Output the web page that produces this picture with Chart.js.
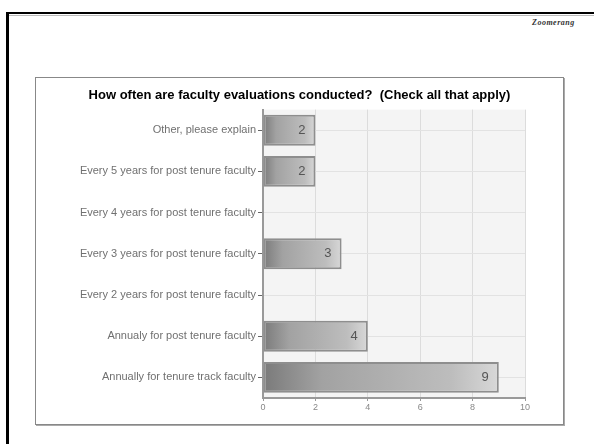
<!DOCTYPE html>
<html>
<head>
<meta charset="utf-8">
<script src="https://cdn.jsdelivr.net/npm/chart.js@4.4.0/dist/chart.umd.min.js"></script>
<style>
  body { margin: 0; background: #fff; width: 594px; height: 444px; overflow: hidden; position: relative; font-family: "Liberation Sans", Arial, sans-serif; }
  #frame { position: absolute; left: 6px; top: 12px; width: 600px; height: 440px; border-left: 3px solid #000; border-top: 2px solid #000; }
  #frame:after { content: ""; position: absolute; left: 0; top: 1px; width: 100%; border-top: 1px solid #bbb; }
  #logo { position: absolute; left: 532px; top: 18px; font: italic bold 8px "Liberation Serif", serif; color: #333; letter-spacing: 0.5px; }
  #box { position: absolute; left: 35px; top: 77px; width: 527px; height: 346px; border: 1px solid #888; box-shadow: 1px 1px 0 #aaa; background: #fff; }
  #box canvas { position: absolute; left: 0; top: 0; }
</style>
</head>
<body>
<div id="frame"></div>
<div id="logo">Zoomerang</div>
<div id="box"><canvas id="chart" width="527" height="346"></canvas></div>
<script>
const categories = ['Other, please explain', 'Every 5 years for post tenure faculty', 'Every 4 years for post tenure faculty', 'Every 3 years for post tenure faculty', 'Every 2 years for post tenure faculty', 'Annualy for post tenure faculty', 'Annually for tenure track faculty'];
const counts = [2, 2, 0, 3, 0, 4, 9];
const xTicks = [0, 2, 4, 6, 8, 10];

// value written inside the right end of each bar
const valueLabels = {
    id: 'valueLabels',
    afterDatasetsDraw(chart) {
        const ctx = chart.ctx;
        const meta = chart.getDatasetMeta(0);
        ctx.save();
        ctx.font = '13px "Liberation Sans", Arial, sans-serif';
        ctx.fillStyle = '#555';
        ctx.textAlign = 'right';
        ctx.textBaseline = 'middle';
        meta.data.forEach(function (bar, i) {
            if (counts[i] > 0) {
                ctx.fillText(counts[i], bar.x - 10, bar.y);
            }
        });
        ctx.restore();
    }
};

const plotBg = {
    id: 'plotBg',
    beforeDraw(chart) {
        const a = chart.chartArea;
        chart.ctx.save();
        chart.ctx.fillStyle = '#f4f4f4';
        chart.ctx.fillRect(a.left, a.top, a.right - a.left, a.bottom - a.top);
        chart.ctx.restore();
    }
};

function barFill(context) {
    const chart = context.chart;
    const x = chart.scales.x;
    if (!x) return '#aaa';
    const v = counts[context.dataIndex] || 0;
    const x0 = x.getPixelForValue(0);
    const x1 = x.getPixelForValue(v);
    if (!isFinite(x0) || !isFinite(x1) || x1 - x0 < 1) return '#aaa';
    const g = chart.ctx.createLinearGradient(x0, 0, x1, 0);
    g.addColorStop(0, '#7a7a7a');
    g.addColorStop(0.25, '#a2a2a2');
    g.addColorStop(0.8, '#bdbdbd');
    g.addColorStop(1, '#d8d8d8');
    return g;
}

const cty = document.getElementById('chart').getContext('2d');
const myChart = new Chart(cty, {
    type: 'bar',
    data: {
        labels: categories,
        datasets: [{
            data: counts,
            backgroundColor: barFill,
            borderColor: '#8e8e8e',
            borderWidth: 2,
            borderSkipped: false,
            categoryPercentage: 1,
            barPercentage: 0.75
        }]
    },
    plugins: [plotBg, valueLabels],
    options: {
        indexAxis: 'y',
        responsive: false,
        animation: false,
        layout: {
            padding: { left: 0, right: 0, top: 0, bottom: 8 }
        },
        plugins: {
            legend: { display: false },
            tooltip: { enabled: false },
            title: {
                display: true,
                text: 'How often are faculty evaluations conducted?  (Check all that apply)',
                color: '#000',
                font: { family: '"Liberation Sans", Arial, sans-serif', size: 13, weight: 'bold' },
                padding: { top: 10, bottom: 6 }
            }
        },
        scales: {
            x: {
                min: 0,
                max: 10,
                afterBuildTicks: function (scale) {
                    scale.ticks = xTicks.map(function (v) { return { value: v }; });
                },
                afterFit: function (scale) { scale.height = 18; },
                ticks: {
                    color: '#888',
                    font: { family: '"Liberation Sans", Arial, sans-serif', size: 9 },
                    padding: 1
                },
                grid: { color: '#dcdcdc', tickColor: '#999', tickLength: 3 },
                border: { color: '#999', width: 2 }
            },
            y: {
                afterFit: function (scale) { scale.width = 227; },
                ticks: {
                    color: '#707070',
                    font: { family: '"Liberation Sans", Arial, sans-serif', size: 11 },
                    padding: 2
                },
                grid: { color: '#e2e2e2', offset: false, tickColor: '#666', tickLength: 5 },
                border: { color: '#999', width: 2 }
            },
            // empty margin on the right of the plot
            yRight: {
                type: 'category',
                position: 'right',
                afterFit: function (scale) { scale.width = 38; },
                ticks: { display: false },
                grid: { display: false },
                border: { display: false }
            }
        }
    }
});
</script>
</body>
</html>
